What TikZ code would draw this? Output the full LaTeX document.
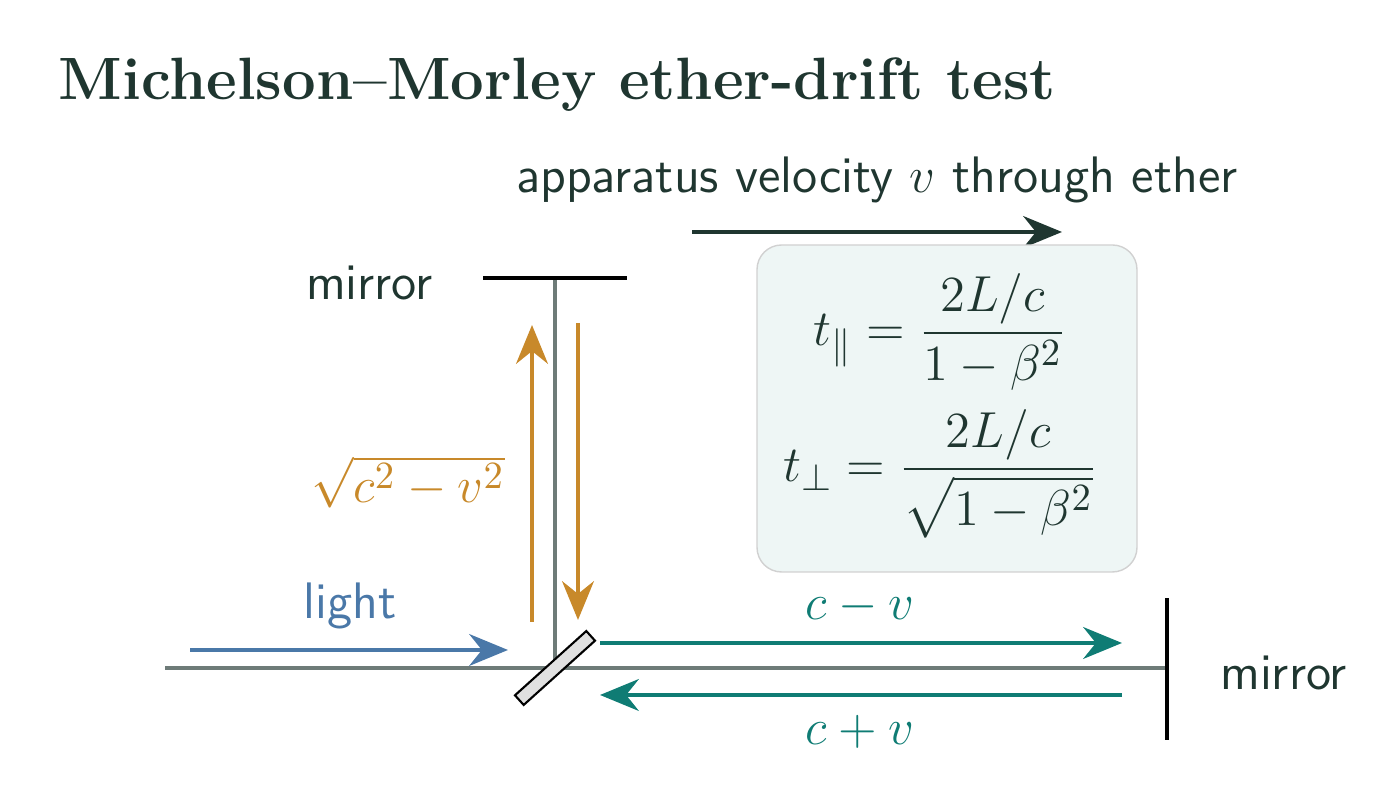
\documentclass[tikz,border=0pt]{standalone}
\usepackage{amsmath}
\usetikzlibrary{arrows.meta,positioning,calc}
\definecolor{ink}{HTML}{1F3630}
\definecolor{beam}{HTML}{6E7B78}
\definecolor{lightblue}{HTML}{4A78A8}
\definecolor{armorange}{HTML}{C8892A}
\definecolor{armteal}{HTML}{0F7C74}
\definecolor{boxfill}{HTML}{EEF6F5}
\tikzset{
  ray/.style={line width=1.4pt,-{Stealth[length=11pt,width=9pt]}},
  mirror/.style={line width=1.3pt,black},
  lbl/.style={font=\sffamily\fontsize{14.6}{17}\selectfont,text=ink},
  eq/.style={font=\fontsize{15.5}{18}\selectfont},
}
\begin{document}
\begin{tikzpicture}[x=1cm,y=1cm]
\useasboundingbox (0,0) rectangle (13.97,8.06);
% title
\node[anchor=base west,inner sep=0pt,text=ink,font=\bfseries\fontsize{17}{20}\selectfont] (title) at (0.58,7.06) {Michelson--Morley ether-drift test};
% velocity
\node[lbl] (vel) at (8.77,6.26) {apparatus velocity $v$ through ether};
\coordinate (v0) at (6.92,5.74);
\coordinate (v1) at (10.62,5.74);
\draw[ray,ink] (v0) -- (v1);
% formula box
\node[draw=black!18,fill=boxfill,rounded corners=7pt,minimum width=3.8cm,minimum height=3.27cm] (box) at (9.47,3.975) {};
\node[text=ink,eq] (tpar) at (9.4,4.74) {$t_{\parallel}=\dfrac{2L/c}{1-\beta^2}$};
\node[text=ink,eq] (tperp) at (9.4,3.32) {$t_{\perp}=\dfrac{2L/c}{\sqrt{1-\beta^2}}$};
% arms
\coordinate (bs) at (5.55,1.38);
\coordinate (src) at (1.65,1.38);
\coordinate (mtop) at (5.55,5.28);
\coordinate (mright) at (11.67,1.38);
\draw[beam,line width=1.3pt] (src) -- (mright);
\draw[beam,line width=1.3pt] (bs) -- (mtop);
\draw[mirror] (4.83,5.28) -- (6.27,5.28);
\draw[mirror] (11.67,0.66) -- (11.67,2.08);
\node[lbl,anchor=east] (mlabtop) at (4.45,5.23) {mirror};
\node[lbl,anchor=west] (mlabright) at (12.08,1.33) {mirror};
% beam splitter
\draw[fill=black!12,line width=0.6pt,rotate around={42:(bs)}] ($(bs)+(-0.48,-0.065)$) rectangle ($(bs)+(0.48,0.065)$);
% light in
\coordinate (l0) at (1.9,1.56);
\coordinate (l1) at (5.08,1.56);
\draw[ray,lightblue] (l0) -- (l1);
\node[font=\sffamily\fontsize{14.6}{17}\selectfont,text=lightblue] (light) at (3.5,2.0) {light};
% vertical arm
\coordinate (u0) at (5.32,1.84);
\coordinate (u1) at (5.32,4.81);
\coordinate (d0) at (5.78,4.83);
\coordinate (d1) at (5.78,1.86);
\draw[ray,armorange] (u0) -- (u1);
\draw[ray,armorange] (d0) -- (d1);
\node[text=armorange,anchor=east,eq] (root) at (5.17,3.24) {$\sqrt{c^2-v^2}$};
% horizontal arm
\coordinate (h0) at (6.0,1.63);
\coordinate (h1) at (11.22,1.63);
\coordinate (r0) at (11.22,1.11);
\coordinate (r1) at (6.0,1.11);
\draw[ray,armteal] (h0) -- (h1);
\draw[ray,armteal] (r0) -- (r1);
\node[text=armteal,eq] (cmv) at (8.6,1.99) {$c-v$};
\node[text=armteal,eq] (cpv) at (8.6,0.74) {$c+v$};
\end{tikzpicture}
\end{document}
